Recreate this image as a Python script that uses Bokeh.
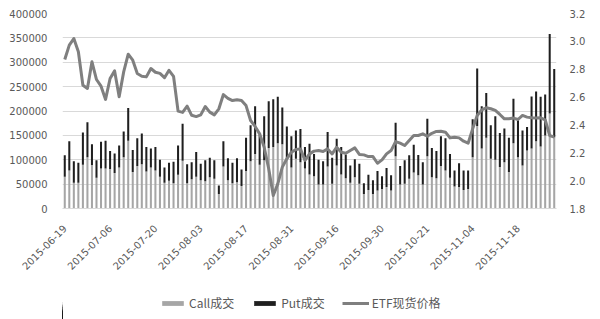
import math
from bokeh.plotting import figure
from bokeh.layouts import column
from bokeh.models import (Range1d, LinearAxis, FixedTicker, NumeralTickFormatter,
                          Legend, LegendItem, ColumnDataSource)
from bokeh.embed import file_html
from bokeh.resources import INLINE

dates = [
    "2015-06-19", "2015-06-23", "2015-06-24", "2015-06-25", "2015-06-26", "2015-06-29", "2015-06-30",
    "2015-07-01", "2015-07-02", "2015-07-03", "2015-07-06", "2015-07-07", "2015-07-08", "2015-07-09",
    "2015-07-10", "2015-07-13", "2015-07-14", "2015-07-15", "2015-07-16", "2015-07-17", "2015-07-20",
    "2015-07-21", "2015-07-22", "2015-07-23", "2015-07-24", "2015-07-27", "2015-07-28", "2015-07-29",
    "2015-07-30", "2015-07-31",
    "2015-08-03", "2015-08-04", "2015-08-05", "2015-08-06", "2015-08-07", "2015-08-10", "2015-08-11",
    "2015-08-12", "2015-08-13", "2015-08-14", "2015-08-17", "2015-08-18", "2015-08-19", "2015-08-20",
    "2015-08-21", "2015-08-24", "2015-08-25", "2015-08-26", "2015-08-27", "2015-08-28", "2015-08-31",
    "2015-09-01", "2015-09-02", "2015-09-07", "2015-09-08", "2015-09-09", "2015-09-10", "2015-09-11",
    "2015-09-14", "2015-09-15", "2015-09-16", "2015-09-17", "2015-09-18", "2015-09-21", "2015-09-22",
    "2015-09-23", "2015-09-24", "2015-09-25", "2015-09-28", "2015-09-29", "2015-09-30",
    "2015-10-08", "2015-10-09", "2015-10-12", "2015-10-13", "2015-10-14", "2015-10-15", "2015-10-16",
    "2015-10-19", "2015-10-20", "2015-10-21", "2015-10-22", "2015-10-23", "2015-10-26", "2015-10-27",
    "2015-10-28", "2015-10-29", "2015-10-30",
    "2015-11-02", "2015-11-03", "2015-11-04", "2015-11-05", "2015-11-06", "2015-11-09", "2015-11-10",
    "2015-11-11", "2015-11-12", "2015-11-13", "2015-11-16", "2015-11-17", "2015-11-18", "2015-11-19",
    "2015-11-20", "2015-11-23", "2015-11-24", "2015-11-25", "2015-11-26", "2015-11-27", "2015-11-30",
]

call_k = [
    65, 78, 53, 53, 90, 105, 89, 63, 82, 82, 81, 73, 84, 105, 139, 75, 87, 91, 76, 84,
    78, 65, 53, 57, 52, 69, 98, 52, 60, 65,
    58, 56, 64, 61, 30, 86, 58, 52, 54, 46, 77, 97, 112, 90, 99, 124, 126, 134, 132, 100,
    84, 102, 95, 82, 70,
    66, 49, 49, 86, 51, 88, 70, 62, 53, 64, 51, 30, 38, 30, 37, 40, 44, 37, 107,
    49, 51, 61, 74, 68, 49, 107, 64, 62, 87, 78, 63, 45, 44, 38, 40, 105, 169,
    123, 145, 102, 100, 85, 95, 75, 134, 105, 88, 119, 123, 138, 127, 150, 195, 146,
]

put_k = [
    44, 60, 44, 41, 66, 72, 43, 36, 55, 57, 37, 40, 45, 53, 67, 45, 57, 63, 50, 39,
    48, 35, 31, 37, 44, 60, 76, 39, 35, 51,
    34, 43, 40, 38, 17, 52, 45, 42, 49, 34, 68, 74, 98, 62, 90, 96, 98, 95, 75, 68,
    64, 58, 68, 44, 63,
    46, 51, 48, 71, 53, 55, 56, 49, 35, 37, 41, 22, 31, 28, 40, 26, 39, 31, 69,
    38, 48, 48, 57, 42, 46, 77, 60, 56, 61, 66, 49, 33, 49, 40, 38, 78, 118,
    87, 92, 69, 89, 70, 69, 70, 91, 76, 72, 48, 107, 102, 102, 84, 163, 140,
]

etf = [
    2.870, 2.973, 3.020, 2.925, 2.685, 2.662, 2.853, 2.726, 2.678, 2.583, 2.733, 2.788, 2.602,
    2.781, 2.908, 2.865, 2.769, 2.750, 2.745, 2.805, 2.778, 2.770, 2.739, 2.792, 2.749, 2.499,
    2.490, 2.535, 2.469, 2.460,
    2.472, 2.532, 2.492, 2.472, 2.516, 2.618, 2.591, 2.575, 2.580, 2.575, 2.539, 2.432, 2.389,
    2.336, 2.240, 2.085, 1.893, 1.977, 2.097, 2.157, 2.204, 2.224, 2.228, 2.145, 2.192,
    2.212, 2.216, 2.209, 2.228, 2.192, 2.240, 2.204, 2.197, 2.216, 2.235, 2.188, 2.185, 2.173,
    2.173, 2.125, 2.149, 2.192, 2.216, 2.280,
    2.269, 2.252, 2.288, 2.324, 2.324, 2.336, 2.319, 2.340, 2.353, 2.355, 2.348, 2.307, 2.312,
    2.307, 2.283, 2.269, 2.372, 2.468,
    2.508, 2.523, 2.516, 2.504, 2.475, 2.444, 2.444, 2.449, 2.439, 2.468, 2.456, 2.451, 2.449,
    2.451, 2.437, 2.324, 2.312,
]

left_ticks = [0, 50000, 100000, 150000, 200000, 250000, 300000, 350000, 400000]
right_ticks = [1.8, 2.0, 2.2, 2.4, 2.6, 2.8, 3.0, 3.2]
label_every = 10
series_names = ["Call成交", "Put成交", "ETF现货价格"]

CALL_COLOR = "#a6a6a6"
PUT_COLOR = "#1f1f1f"
ETF_COLOR = "#7f7f7f"

n = len(dates)
idx = list(range(n))
src = ColumnDataSource(dict(
    x=idx,
    call=[v * 1000 for v in call_k],
    put=[v * 1000 for v in put_k],
    etf=etf,
))

TICK_FONT = "DejaVu Sans"
TICK_COLOR = "#595959"

p = figure(width=600, height=283, output_backend="svg", toolbar_location=None,
           x_range=Range1d(-0.5, n - 0.5), y_range=Range1d(0, 400000),
           min_border_left=62, min_border_right=44, min_border_top=13, min_border_bottom=75)
p.outline_line_color = None
p.background_fill_color = "white"
p.border_fill_color = "white"

p.extra_y_ranges = {"etf": Range1d(1.8, 3.2)}

bars = p.vbar_stack(["call", "put"], x="x", width=0.45, source=src,
                    color=[CALL_COLOR, PUT_COLOR], line_color=None)
line = p.line(x="x", y="etf", source=src, y_range_name="etf",
              line_color=ETF_COLOR, line_width=3, line_join="round")

xa = p.xaxis[0]
xa.ticker = FixedTicker(ticks=list(range(0, n, label_every)))
xa.major_label_overrides = {i: dates[i] for i in range(0, n, label_every)}
xa.major_label_orientation = math.pi / 4
xa.major_tick_line_color = None
xa.minor_tick_line_color = None
xa.axis_line_color = "#d9d9d9"
xa.major_label_text_font = TICK_FONT
xa.major_label_text_font_size = "10px"
xa.major_label_text_color = TICK_COLOR
xa.major_label_standoff = 12

ya = p.yaxis[0]
ya.ticker = FixedTicker(ticks=left_ticks)
ya.formatter = NumeralTickFormatter(format="0")
ya.major_tick_line_color = None
ya.minor_tick_line_color = None
ya.axis_line_color = None
ya.major_label_text_font = TICK_FONT
ya.major_label_text_font_size = "10px"
ya.major_label_text_color = TICK_COLOR
ya.major_label_standoff = 9

ra = LinearAxis(y_range_name="etf", ticker=FixedTicker(ticks=right_ticks),
                formatter=NumeralTickFormatter(format="0.0"))
ra.major_tick_line_color = None
ra.minor_tick_line_color = None
ra.axis_line_color = None
ra.major_label_text_font = TICK_FONT
ra.major_label_text_font_size = "10px"
ra.major_label_text_color = TICK_COLOR
ra.major_label_standoff = 7
p.add_layout(ra, "right")

p.xgrid.grid_line_color = None
p.ygrid.grid_line_color = "#d9d9d9"
p.ygrid.grid_line_width = 1

# legend strip underneath the chart; proxy renderers use the same data,
# with a view window placed beside the data so nothing of them is drawn
lg = figure(width=600, height=36, output_backend="svg", toolbar_location=None,
            x_range=Range1d(2 * n, 3 * n), y_range=Range1d(0, 400000),
            min_border_left=62, min_border_right=44, min_border_top=0, min_border_bottom=0)
lg.xaxis.visible = False
lg.yaxis.visible = False
lg.grid.visible = False
lg.outline_line_color = None
lg.border_fill_color = "white"
lg.background_fill_color = "white"
r_call = lg.vbar(x="x", top="call", width=0.45, source=src, color=CALL_COLOR, line_color=None)
r_put = lg.vbar(x="x", top="put", width=0.45, source=src, color=PUT_COLOR, line_color=None)
r_etf = lg.line(x="x", y="etf", source=src, line_color=ETF_COLOR, line_width=3)

legend = Legend(items=[
    LegendItem(label=series_names[0], renderers=[r_call]),
    LegendItem(label=series_names[1], renderers=[r_put]),
    LegendItem(label=series_names[2], renderers=[r_etf]),
], orientation="horizontal", location=(97, 8))
legend.border_line_color = None
legend.background_fill_alpha = 0
legend.label_text_font = "Noto Sans CJK SC"
legend.label_text_font_size = "12px"
legend.label_text_color = "#595959"
legend.glyph_width = 27
legend.glyph_height = 6
legend.label_height = 14
legend.label_standoff = 3
legend.spacing = 17
legend.margin = 0
legend.padding = 4
lg.add_layout(legend, "center")

layout = column(p, lg, spacing=0)
open("out.html", "w").write(file_html(layout, INLINE))
